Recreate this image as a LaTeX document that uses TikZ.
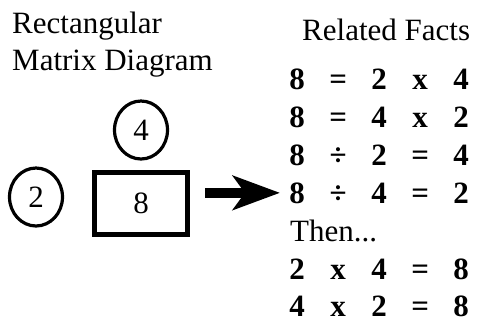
\documentclass[tikz,border=0pt]{standalone}
\usepackage{fontspec}
\setmainfont{LiberationSerif}[Extension=.ttf,UprightFont=*-Regular,
  BoldFont=*-Bold,ItalicFont=*-Italic,BoldItalicFont=*-BoldItalic]
\usetikzlibrary{arrows.meta,shapes.geometric}
\newcommand{\bigtext}{\fontsize{31}{37}\selectfont}
\newcommand{\fc}[1]{\makebox[41pt]{#1}}
\tikzset{
  heading/.style={anchor=base west,inner sep=0pt,font=\bigtext},
  factrow/.style={anchor=base west,inner sep=0pt,font=\bigtext\bfseries},
  ring/.style={ellipse,draw=black,line width=3.2pt,minimum width=53pt,
    minimum height=58pt,inner sep=0pt,font=\bigtext},
  matbox/.style={rectangle,draw=black,line width=5pt,minimum width=93pt,
    minimum height=62pt,inner sep=0pt,font=\bigtext},
  bigarrow/.style={-{Stealth[length=47pt,width=34pt,inset=12pt]},
    line width=10pt,color=black},
}

\begin{document}
\begin{tikzpicture}[x=1pt,y=-1pt]
  \useasboundingbox (0,0) rectangle (477,322);
  % left side: the matrix
  \node[heading] (t1) at (12,33) {Rectangular};
  \node[heading] (t2) at (12,70) {Matrix Diagram};
  \node[ring]   (c4) at (141,130) {4};
  \node[ring]   (c2) at (36,197) {2};
  \node[matbox] (m8) at (141,203.5) {8};
  % right side: the facts
  \node[heading] (rf) at (302,40) {Related Facts};
  \node[factrow] (f1) at (276.5,89)    {\fc{8}\fc{=}\fc{2}\fc{x}\fc{4}};
  \node[factrow] (f2) at (276.5,127)   {\fc{8}\fc{=}\fc{4}\fc{x}\fc{2}};
  \node[factrow] (f3) at (276.5,165)   {\fc{8}\fc{÷}\fc{2}\fc{=}\fc{4}};
  \node[factrow] (f4) at (276.5,203)   {\fc{8}\fc{÷}\fc{4}\fc{=}\fc{2}};
  \node[heading] (th) at (290,241)     {Then...};
  \node[factrow] (f5) at (276.5,279)   {\fc{2}\fc{x}\fc{4}\fc{=}\fc{8}};
  \node[factrow] (f6) at (276.5,316)   {\fc{4}\fc{x}\fc{2}\fc{=}\fc{8}};
  \draw[bigarrow] ([xshift=15pt]m8.east |- f4.west) -- ([xshift=3.5pt]f4.west);
\end{tikzpicture}
\end{document}
